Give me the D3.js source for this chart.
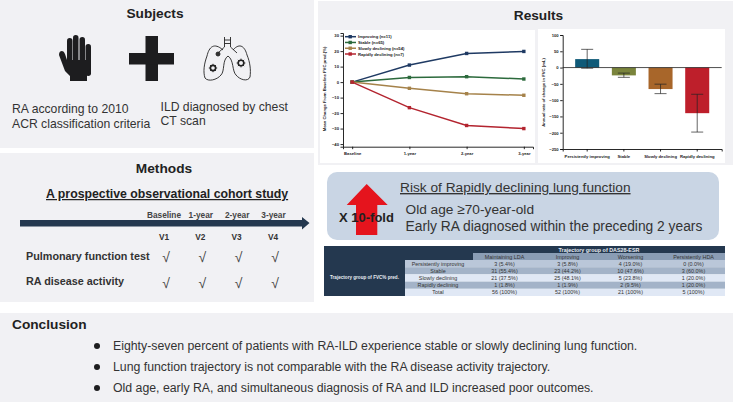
<!DOCTYPE html>
<html>
<head>
<meta charset="utf-8">
<script src="https://cdn.jsdelivr.net/npm/d3@7"></script>
<style>
  html, body { margin: 0; padding: 0; background: #fff; }
  svg { display: block; }
  text { font-family: "Liberation Sans", Arial, sans-serif; }
  .tiny text { font-size: 4.2px; font-weight: bold; fill: #222; }
  .tiny path, .tiny line { stroke: #111; stroke-width: 0.9; }
</style>
</head>
<body>
<svg id="chart" width="733" height="402"></svg>
<script>
// line chart
const timepoints = ["Baseline", "1-year", "2-year", "3-year"];
const lineTicks = [30, 20, 10, 0, -10, -20, -30, -40];
const improving = [0, 11, 18.5, 19.8];
const stable = [0, 3, 3.5, 2];
const slowly = [0, -4, -7.5, -8.5];
const rapidly = [0, -16.5, -28, -30];
const lineNames = ["Improving (n=11)", "Stable (n=65)", "Slowly declining (n=54)", "Rapidly declining (n=7)"];
const lineColors = ["#1f3a63", "#2c6a3c", "#a5824a", "#b3242f"];

// bar chart
const barNames = ["Persistently improving", "Stable", "Slowly declining", "Rapidly declining"];
const barValues = [26, -24, -66, -140];
const barHigh = [56, -17, -51, -82];
const barLow = [-2, -30, -80, -198];
const barTicks = [100, 50, 0, -50, -100, -150, -200, -250];
const barColors = ["#0f5a78", "#7a843c", "#a8662a", "#be1f2b"];

// table
const tableCols = ["Maintaining LDA", "Improving", "Worsening", "Persistently HDA"];
const tableRows = ["Persistently improving", "Stable", "Slowly declining", "Rapidly declining", "Total"];
const tableCells = [
  ["3 (5.4%)", "3 (5.8%)", "4 (19.0%)", "0 (0.0%)"],
  ["31 (55.4%)", "23 (44.2%)", "10 (47.6%)", "3 (60.0%)"],
  ["21 (37.5%)", "25 (48.1%)", "5 (23.8%)", "1 (20.0%)"],
  ["1 (1.8%)", "1 (1.9%)", "2 (9.5%)", "1 (20.0%)"],
  ["56 (100%)", "52 (100%)", "21 (100%)", "5 (100%)"],
];
const rowFills = ["#bac7d9", "#a3b3c8", "#e0e8f5", "#a3b3c8", "#e0e8f5"];

const visits = ["V1", "V2", "V3", "V4"];
const conclusions = [
  "Eighty-seven percent of patients with RA-ILD experience stable or slowly declining lung function.",
  "Lung function trajectory is not comparable with the RA disease activity trajectory.",
  "Old age, early RA, and simultaneous diagnosis of RA and ILD increased poor outcomes.",
];

const svg = d3.select("#chart");
const panelFill = "#f1f1f4";
const navy = "#24384f";

function label(parent, x, y, str, size, opts = {}) {
  return parent.append("text")
    .attr("x", x).attr("y", y)
    .attr("font-size", size)
    .attr("font-weight", opts.weight || "normal")
    .attr("text-anchor", opts.anchor || "start")
    .attr("text-decoration", opts.underline ? "underline" : null)
    .attr("fill", opts.fill || "#333")
    .text(str);
}

function panel(x, y, w, h, fill = panelFill) {
  svg.append("rect").attr("x", x).attr("y", y).attr("width", w).attr("height", h).attr("fill", fill);
}

// panels
panel(0, 0, 314, 148);
panel(0, 153, 314, 149);
panel(318, 1, 415, 164);
panel(320, 30, 215, 133, "#fff");
panel(538, 29, 187, 134, "#fff");
panel(0, 313, 733, 89);

// Subjects
label(svg, 155, 17.5, "Subjects", 13.7, { weight: "bold", anchor: "middle", fill: "#222" });

const hand = svg.append("g").attr("fill", "#1d1d1f");
[[67, 38, 5.5], [73, 35, 5.5], [79.5, 37, 5.5], [85.5, 44, 5.5]].forEach(([x, y, w]) => {
  hand.append("rect").attr("x", x).attr("y", y).attr("width", w).attr("height", 32).attr("rx", 2.7);
});
hand.append("path").attr("d", "M67 60 L91 60 L90.5 68 L87 75 L87 81 L70 81 L70 76 L65 71 L59 55 Q59 51 62 51 Q64 51 65 54 Z");

svg.append("g").attr("fill", "#1d1d1f").call((g) => {
  g.append("rect").attr("x", 145.5).attr("y", 36).attr("width", 12.5).attr("height", 45);
  g.append("rect").attr("x", 129).attr("y", 53).attr("width", 45).attr("height", 11.5);
});

const lung = svg.append("g").attr("fill", "none").attr("stroke", "#222").attr("stroke-width", 0.9);
lung.append("path").attr("d", "M223 50 C214 42 209 47 207 56 C204 64 203 72 205 78 C208 82 217 80 221 75 C225 71 222 60 228 56 C234 60 232 71 236 75 C240 80 248 82 250 77 C251 70 250 62 247 55 C245 47 240 42 233 50");
lung.append("path").attr("d", "M224.5 37 L224.5 47 M230.5 37 L230.5 47 M224.5 40 L230.5 40 M224.5 43.5 L230.5 43.5 M224.5 47 L218 53 M230.5 47 L237 53");
[[213, 68, 2.6], [241, 63, 2.8]].forEach(([x, y, r]) => {
  lung.append("circle").attr("cx", x).attr("cy", y).attr("r", r).attr("stroke-width", 1.6);
  d3.range(8).forEach((i) => {
    const a = (i * Math.PI) / 4;
    lung.append("line")
      .attr("x1", x + Math.cos(a) * r).attr("y1", y + Math.sin(a) * r)
      .attr("x2", x + Math.cos(a) * (r + 1.6)).attr("y2", y + Math.sin(a) * (r + 1.6));
  });
});
lung.append("circle").attr("cx", 218).attr("cy", 54).attr("r", 2).attr("fill", "#333");

label(svg, 12, 113, "RA according to 2010", 12.2);
label(svg, 12, 127.5, "ACR classification criteria", 12.2);
label(svg, 160.5, 110.5, "ILD diagnosed by chest", 12.2);
label(svg, 160.5, 125, "CT scan", 12.2);

// Methods
label(svg, 164, 173, "Methods", 13.7, { weight: "bold", anchor: "middle", fill: "#222" });
label(svg, 46, 198, "A prospective observational cohort study", 12.3, { weight: "bold", underline: true, fill: "#222" });

svg.append("path").attr("fill", navy)
  .attr("d", "M20 220 L302 220 L302 217 L309.5 223 L302 229.5 L302 226.5 L20 226.5 Z");

const visitX = d3.scalePoint().domain(visits).range([164, 273]);
const checkX = d3.scalePoint().domain(visits).range([166, 275]);
timepoints.forEach((t, i) => {
  label(svg, visitX(visits[i]) + (i === 0 ? 0 : 0.5), 217.5, t, 8.3, { weight: "bold", anchor: "middle", fill: "#444" });
});
visits.forEach((v) => {
  label(svg, visitX(v), 240, v, 8.3, { weight: "bold", anchor: "middle", fill: "#333" });
  label(svg, checkX(v), 262, "√", 14, { anchor: "middle", fill: "#444" });
  label(svg, checkX(v), 288, "√", 14, { anchor: "middle", fill: "#444" });
});
label(svg, 26, 260, "Pulmonary function test", 10.8, { weight: "bold", fill: "#333" });
label(svg, 26, 285, "RA disease activity", 10.8, { weight: "bold", fill: "#333" });

// Results
label(svg, 538.5, 19.5, "Results", 13.7, { weight: "bold", anchor: "middle", fill: "#222" });

// Line chart
const xLine = d3.scalePoint().domain(timepoints).range([343, 533]).padding(0.16);
const yLine = d3.scaleLinear().domain([-41.7, 31.7]).range([146.7, 33]);
const lineGen = d3.line().x((d, i) => xLine(timepoints[i])).y((d) => yLine(d));

const lineAxes = svg.append("g").attr("class", "tiny");
lineAxes.append("g").attr("transform", "translate(343,0)")
  .call(d3.axisLeft(yLine).tickValues(lineTicks).tickSize(2.5).tickPadding(1.5));
lineAxes.append("g").attr("transform", "translate(0,146.7)")
  .call(d3.axisBottom(xLine).tickSize(2.5).tickPadding(3));
lineAxes.append("text").attr("transform", "translate(325.5,89)rotate(-90)")
  .attr("text-anchor", "middle").text("Mean Change From Baseline FVC pred.(%)");

[improving, stable, slowly, rapidly].forEach((series, i) => {
  const g = svg.append("g");
  g.append("path").attr("d", lineGen(series)).attr("fill", "none")
    .attr("stroke", lineColors[i]).attr("stroke-width", 1.5);
  g.selectAll("rect").data(series).join("rect")
    .attr("x", (d, j) => xLine(timepoints[j]) - 1.7)
    .attr("y", (d) => yLine(d) - 1.7)
    .attr("width", 3.4).attr("height", 3.4)
    .attr("fill", lineColors[i]);
});

const legendY = d3.scalePoint().domain(lineNames).range([36.7, 54]);
lineNames.forEach((name, i) => {
  const y = legendY(name);
  svg.append("line").attr("x1", 345).attr("x2", 356).attr("y1", y).attr("y2", y)
    .attr("stroke", lineColors[i]).attr("stroke-width", 1.5);
  svg.append("rect").attr("x", 348.5).attr("y", y - 1.7).attr("width", 3.4).attr("height", 3.4)
    .attr("fill", lineColors[i]);
  svg.append("text").attr("x", 358).attr("y", y + 1.5)
    .attr("font-size", 4.2).attr("font-weight", "bold").attr("fill", "#222").text(name);
});

// Bar chart
const xBar = d3.scaleBand().domain(barNames).range([562.7, 721.7]).paddingInner(0.345).paddingOuter(0.34);
const yBar = d3.scaleLinear().domain([-250, 100]).range([149, 35]);

svg.append("g").selectAll("rect").data(barValues).join("rect")
  .attr("x", (d, i) => xBar(barNames[i]))
  .attr("y", (d) => Math.min(yBar(d), yBar(0)))
  .attr("width", xBar.bandwidth())
  .attr("height", (d) => Math.abs(yBar(d) - yBar(0)))
  .attr("fill", (d, i) => barColors[i]);

const barAxes = svg.append("g").attr("class", "tiny");
barAxes.append("g").attr("transform", "translate(562.7,0)")
  .call(d3.axisLeft(yBar).tickValues(barTicks).tickSize(2.5).tickPadding(1.5));
barAxes.append("g").attr("transform", "translate(0,149)")
  .call(d3.axisBottom(xBar).tickSize(2.5).tickPadding(3.5));
barAxes.selectAll("g.tick text").style("font-weight", "bold");
barAxes.append("text").attr("transform", "translate(545,92.5)rotate(-90)")
  .attr("text-anchor", "middle").text("Annual rate of change in FVC (mL)");
svg.append("line").attr("x1", 562.7).attr("x2", 721.7).attr("y1", yBar(0)).attr("y2", yBar(0))
  .attr("stroke", "#222").attr("stroke-width", 0.8);

const errs = svg.append("g").attr("stroke", "#222").attr("stroke-width", 0.7);
barNames.forEach((name, i) => {
  const cx = xBar(name) + xBar.bandwidth() / 2;
  errs.append("line").attr("x1", cx).attr("x2", cx).attr("y1", yBar(barHigh[i])).attr("y2", yBar(barLow[i]));
  [barHigh[i], barLow[i]].forEach((v) => {
    errs.append("line").attr("x1", cx - 6).attr("x2", cx + 6).attr("y1", yBar(v)).attr("y2", yBar(v));
  });
});

// Risk box
svg.append("rect").attr("x", 327).attr("y", 172).attr("width", 392).attr("height", 68).attr("rx", 10)
  .attr("fill", "#c9d5e4");
svg.append("path").attr("fill", "#e5141d")
  .attr("d", "M366.7 184 L387.7 205 L377.3 205 L377.3 235 L356 235 L356 205 L346.7 205 Z");
label(svg, 339, 222, "X 10-fold", 13, { weight: "bold", fill: "#222" });
label(svg, 400, 192, "Risk of Rapidly declining lung function", 13.7, { underline: true, fill: "#333" });
label(svg, 405.5, 214, "Old age ≥70-year-old", 13.7, { fill: "#333" });
label(svg, 405.5, 231, "Early RA diagnosed within the preceding 2 years", 13.8, { fill: "#333" });

// Table
const yRow = d3.scaleBand().domain(tableRows).range([260, 296]);
const xCol = d3.scaleBand().domain(tableCols).range([473, 725]);
const tableG = svg.append("g");

tableG.append("rect").attr("x", 324).attr("y", 246).attr("width", 401).attr("height", 7).attr("fill", navy);
tableG.append("rect").attr("x", 324).attr("y", 246).attr("width", 81).attr("height", 50).attr("fill", navy);
tableG.append("rect").attr("x", 405).attr("y", 253).attr("width", 68).attr("height", 7).attr("fill", navy);
tableG.append("rect").attr("x", 473).attr("y", 253).attr("width", 252).attr("height", 7).attr("fill", "#8a9db5");

tableG.selectAll(".row").data(tableRows).join("rect")
  .attr("x", 405).attr("y", (d) => yRow(d))
  .attr("width", 320).attr("height", yRow.bandwidth())
  .attr("fill", (d, i) => rowFills[i]);

label(tableG, 364.5, 279, "Trajectory group of FVC% pred.", 4.6, { weight: "bold", anchor: "middle", fill: "#e8edf3" });
label(tableG, 599, 252, "Trajectory group of DAS28-ESR", 5.4, { weight: "bold", anchor: "middle", fill: "#e8edf3" });
tableCols.forEach((c) => {
  label(tableG, xCol(c) + xCol.bandwidth() / 2, 259, c, 5.4, { anchor: "middle", fill: "#333" });
});
tableRows.forEach((r, i) => {
  const y = yRow(r) + yRow.bandwidth() / 2 + 1.9;
  label(tableG, 438, y, r, 5.4, { anchor: "middle", fill: "#333" });
  tableCols.forEach((c, j) => {
    label(tableG, xCol(c) + xCol.bandwidth() / 2, y, tableCells[i][j], 5.4, { anchor: "middle", fill: "#333" });
  });
});

// Conclusion
label(svg, 12, 329, "Conclusion", 13.7, { weight: "bold", fill: "#222" });
const concY = d3.scalePoint().domain(conclusions).range([349.5, 391.5]);
conclusions.forEach((c) => {
  svg.append("circle").attr("cx", 97).attr("cy", concY(c) - 3.5).attr("r", 3).attr("fill", "#1d1d1f");
  label(svg, 113, concY(c), c, 12.3, { fill: "#333" });
});
</script>
</body>
</html>
